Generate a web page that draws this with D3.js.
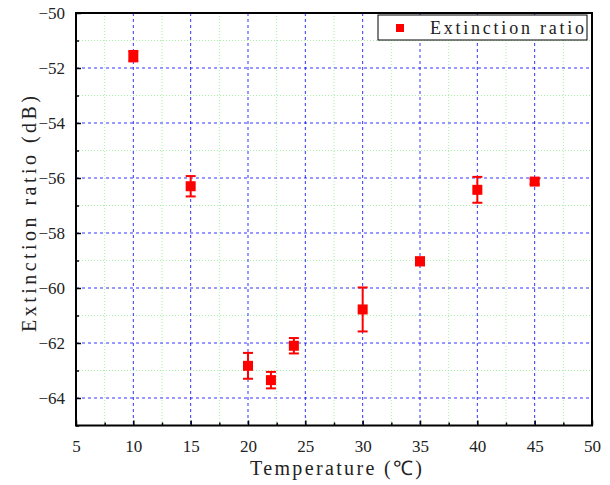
<!DOCTYPE html>
<html><head><meta charset="utf-8">
<script src="https://cdn.jsdelivr.net/npm/d3@7"></script>
<style>body{margin:0;background:#fff}</style>
</head><body>
<svg id="c" width="610" height="485"></svg>
<script>
const temperature = [10, 15, 20, 22, 24, 30, 35, 40, 45];
const extinction = [-51.57, -56.30, -62.83, -63.35, -62.10, -60.78, -59.03, -56.43, -56.13];
const errorBar = [0.19, 0.37, 0.47, 0.30, 0.28, 0.80, 0.14, 0.47, 0.10];
const xTicks = [5, 10, 15, 20, 25, 30, 35, 40, 45, 50];
const yTicks = [-50, -52, -54, -56, -58, -60, -62, -64];
const xMinor = [7.5, 12.5, 17.5, 22.5, 27.5, 32.5, 37.5, 42.5, 47.5];
const yMinor = [-51, -53, -55, -57, -59, -61, -63, -65];

const svg = d3.select("#c");
const L = 76, R = 592, T = 13, B = 425.5;
const x = d3.scaleLinear().domain([5, 50]).range([L, R]);
const y = d3.scaleLinear().domain([-65, -50]).range([B, T]);
const FONT = '"Liberation Serif", "Times New Roman", serif';

const g = svg.append("g");
// minor grid
g.selectAll(".mgx").data(xMinor).join("line")
  .attr("x1", d => x(d)).attr("x2", d => x(d)).attr("y1", T).attr("y2", B)
  .attr("stroke", "#a8f0a8").attr("stroke-width", 1).attr("stroke-dasharray", "1,2");
g.selectAll(".mgy").data(yMinor).join("line")
  .attr("y1", d => y(d)).attr("y2", d => y(d)).attr("x1", L).attr("x2", R)
  .attr("stroke", "#a8f0a8").attr("stroke-width", 1).attr("stroke-dasharray", "1,2");
// major grid
g.selectAll(".gx").data(xTicks.slice(1, -1)).join("line")
  .attr("x1", d => x(d)).attr("x2", d => x(d)).attr("y1", T).attr("y2", B)
  .attr("stroke", "#0000ff").attr("stroke-opacity", 0.8).attr("stroke-width", 1).attr("stroke-dasharray", "3,3");
g.selectAll(".gy").data(yTicks.slice(1)).join("line")
  .attr("y1", d => y(d)).attr("y2", d => y(d)).attr("x1", L).attr("x2", R)
  .attr("stroke", "#0000ff").attr("stroke-opacity", 0.8).attr("stroke-width", 1).attr("stroke-dasharray", "3,3");

// axes
const xAxis = d3.axisBottom(x).tickValues(xTicks).tickSizeInner(-5).tickSizeOuter(0).tickPadding(14).tickFormat(d3.format("d"));
const xa = svg.append("g").attr("transform", `translate(0,${B})`).call(xAxis);
xa.selectAll("text").style("font-family", FONT).style("font-size", "17px").attr("fill", "#222");
const xAxisMinor = d3.axisBottom(x).tickValues(xMinor).tickSizeInner(-3).tickSizeOuter(0).tickFormat("");
svg.append("g").attr("transform", `translate(0,${B})`).call(xAxisMinor);

const yAxis = d3.axisLeft(y).tickValues(yTicks).tickSizeInner(-5).tickSizeOuter(0).tickPadding(11)
  .tickFormat(d => "\u2212" + Math.abs(d));
const ya = svg.append("g").attr("transform", `translate(${L},0)`).call(yAxis);
ya.selectAll("text").style("font-family", FONT).style("font-size", "17px").attr("fill", "#222");
const yAxisMinor = d3.axisLeft(y).tickValues(yMinor).tickSizeInner(-3).tickSizeOuter(0).tickFormat("");
svg.append("g").attr("transform", `translate(${L},0)`).call(yAxisMinor);

svg.selectAll(".domain").attr("stroke", "none");
svg.selectAll(".tick line").attr("stroke", "#000").attr("stroke-width", 1.5);

// frame
svg.append("rect").attr("x", L).attr("y", T).attr("width", R - L).attr("height", B - T)
  .attr("fill", "none").attr("stroke", "#000").attr("stroke-width", 2);

// error bars
const data = temperature.map((t, i) => ({t, v: extinction[i], e: errorBar[i]}));
const eb = svg.append("g").attr("stroke", "#ff0000").attr("stroke-width", 2);
eb.selectAll(".v").data(data).join("line")
  .attr("x1", d => x(d.t)).attr("x2", d => x(d.t))
  .attr("y1", d => y(d.v - d.e)).attr("y2", d => y(d.v + d.e));
eb.selectAll(".c1").data(data).join("line")
  .attr("x1", d => x(d.t) - 5).attr("x2", d => x(d.t) + 5)
  .attr("y1", d => y(d.v + d.e)).attr("y2", d => y(d.v + d.e));
eb.selectAll(".c2").data(data).join("line")
  .attr("x1", d => x(d.t) - 5).attr("x2", d => x(d.t) + 5)
  .attr("y1", d => y(d.v - d.e)).attr("y2", d => y(d.v - d.e));
svg.append("g").selectAll("rect").data(data).join("rect")
  .attr("x", d => x(d.t) - 5).attr("y", d => y(d.v) - 5).attr("width", 10).attr("height", 10)
  .attr("fill", "#ff0000");

// legend
const lg = svg.append("g");
lg.append("rect").attr("x", 378).attr("y", 15).attr("width", 209).attr("height", 25)
  .attr("fill", "#fff").attr("stroke", "#000").attr("stroke-width", 1);
lg.append("rect").attr("x", 396).attr("y", 24).attr("width", 8).attr("height", 8).attr("fill", "#ff0000");
lg.append("text").attr("x", 430).attr("y", 34).style("font-family", FONT).style("font-size", "18px")
  .attr("textLength", 154).attr("lengthAdjust", "spacing")
  .attr("fill", "#222").text("Extinction ratio");

// axis titles
svg.append("text").attr("x", 250).attr("y", 475)
  .attr("textLength", 172).attr("lengthAdjust", "spacing")
  .style("font-family", FONT).style("font-size", "20px").attr("fill", "#222").text("Temperature (\u2103)");
svg.append("text").attr("transform", `translate(36,332) rotate(-90)`)
  .attr("textLength", 236).attr("lengthAdjust", "spacing")
  .style("font-family", FONT).style("font-size", "20px").attr("fill", "#222").text("Extinction ratio (dB)");
</script>
</body></html>
